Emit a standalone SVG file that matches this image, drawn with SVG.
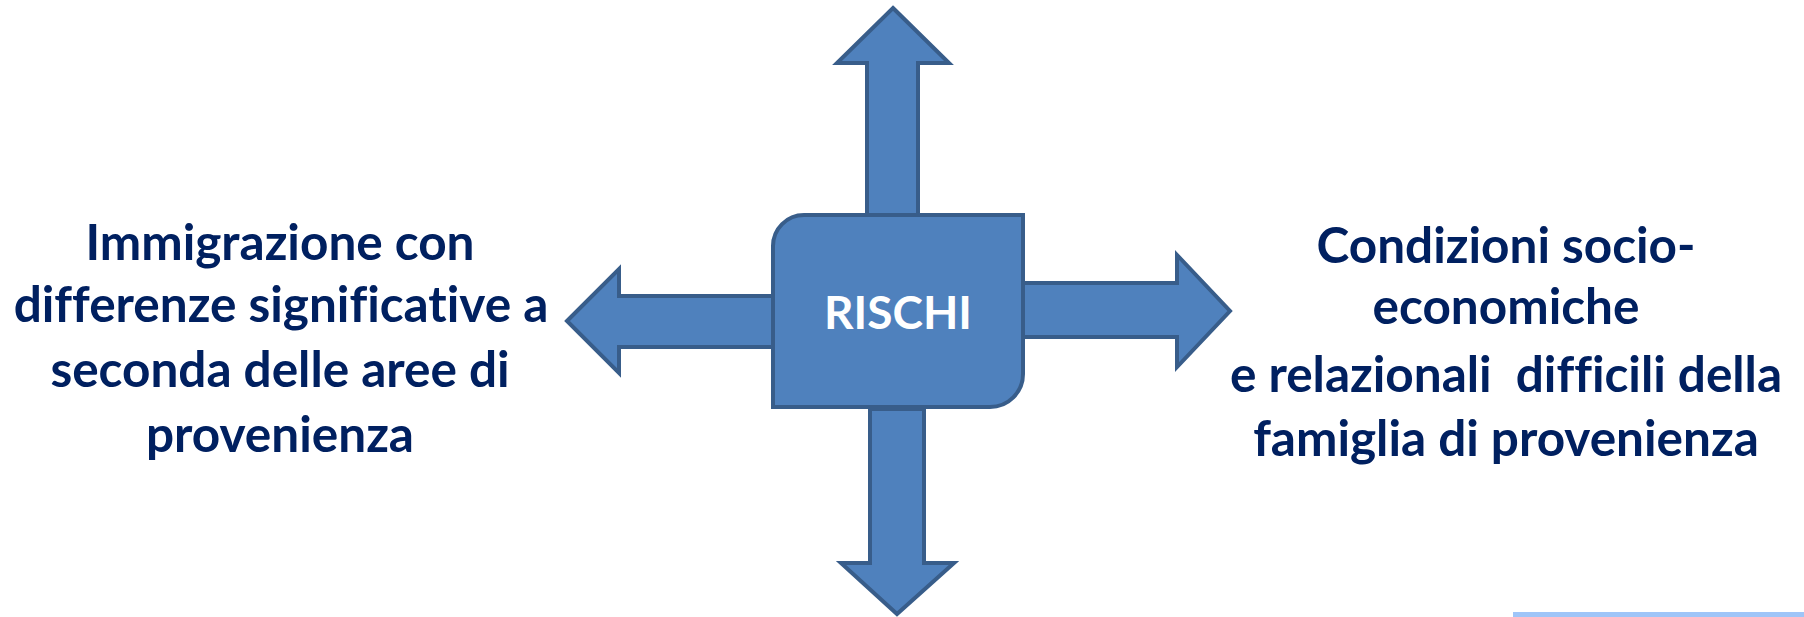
<svg xmlns="http://www.w3.org/2000/svg" width="1804" height="617" viewBox="0 0 1804 617">
  <style>
    .shape { fill: #4F81BD; stroke: #385D8A; stroke-width: 4; stroke-linejoin: miter; }
    .label { font-family: "Lato", "Open Sans", "Liberation Sans", sans-serif; font-weight: bold; font-size: 49.5px; fill: #002060; text-anchor: middle; font-variant-ligatures: none; }
    .center-label { font-family: "Lato", "Open Sans", "Liberation Sans", sans-serif; font-weight: bold; font-size: 46px; fill: #FFFFFF; text-anchor: middle; }
  </style>
  <rect width="1804" height="617" fill="#FFFFFF"/>

  <!-- block arrows radiating from the central box -->
  <g id="connectors">
    <polygon id="arrow-up" class="shape" points="893,8 949,63 918,63 918,215 867,215 867,63 837,63"/>
    <polygon id="arrow-left" class="shape" points="567,321 619,269 619,296 773,296 773,347 619,347 619,373"/>
    <polygon id="arrow-right" class="shape" points="1023,283 1177,283 1177,255 1230,311 1177,367 1177,337 1023,337"/>
    <polygon id="arrow-down" class="shape" points="870,409 924,409 924,563 954,563 897,614 841,563 870,563"/>
  </g>

  <!-- central node -->
  <g id="rischi">
    <path class="shape" d="M804,215 H1023 V374 A33,33 0 0 1 990,407 H773 V246 A31,31 0 0 1 804,215 Z"/>
    <text class="center-label" x="898" y="329">RISCHI</text>
  </g>

  <!-- left label -->
  <g id="immigrazione">
    <text class="label" x="280" y="260">Immigrazione con</text>
    <text class="label" x="281" y="322">differenze significative a</text>
    <text class="label" x="280" y="387">seconda delle aree di</text>
    <text class="label" x="280" y="452">provenienza</text>
  </g>

  <!-- right label -->
  <g id="condizioni">
    <text class="label" x="1506" y="263">Condizioni socio-</text>
    <text class="label" x="1506" y="324">economiche</text>
    <text class="label" x="1506" y="392" xml:space="preserve">e relazionali  difficili della</text>
    <text class="label" x="1506" y="456">famiglia di provenienza</text>
  </g>

  <!-- footer accent strip -->
  <rect x="1513" y="612" width="291" height="5" fill="#9FC5F8"/>
</svg>
